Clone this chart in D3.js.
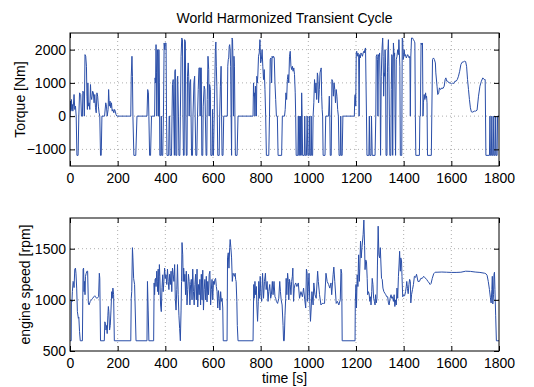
<!DOCTYPE html>
<html>
<head>
<meta charset="utf-8">
<script src="https://cdn.jsdelivr.net/npm/d3@7"></script>
<style>
  body { margin: 0; background: #fff; }
  text { font-family: "Liberation Sans", Arial, Helvetica, sans-serif; }
</style>
</head>
<body>
<svg id="chart" width="534" height="387"></svg>
<script>
const chartTitle = "World Harmonized Transient Cycle";
const timeTicks = [0, 200, 400, 600, 800, 1000, 1200, 1400, 1600, 1800];
const torqueTicks = [-1000, 0, 1000, 2000];
const speedTicks = [500, 1000, 1500];

// [time s, torque Nm]
const torque = [
  [0,0],[2,450],[4,150],[6,500],[8,200],[10,350],[12,150],[14,300],[17,650],[20,200],[23,300],[26,0],
  [29,-1180],[34,-1180],[37,0],[40,700],[45,650],[48,0],[52,0],[54,750],[58,700],[60,0],[63,1850],
  [66,1800],[69,1500],[71,600],[73,200],[75,1000],[77,300],[80,400],[83,200],[86,950],[88,600],
  [91,500],[95,750],[98,700],[101,400],[104,650],[107,250],[110,100],[113,700],[116,600],[119,300],
  [122,100],[125,0],[128,-1180],[131,-1180],[134,0],[145,0],[150,400],[153,300],[156,0],[160,200],
  [162,800],[165,300],[168,450],[171,250],[174,400],[177,150],[180,200],[184,100],[187,200],[190,150],
  [193,50],[197,0],
  [255,0],[257,1200],[260,1800],[262,1200],[264,0],[268,-1180],[276,-1180],[281,0],[323,0],[326,800],
  [329,700],[331,0],[334,-1180],[338,-1180],[342,0],[355,0],[357,1150],[359,1000],[361,2150],[363,1300],
  [364,0],[367,2000],[369,1800],[371,0],[373,2000],[375,1000],[377,-1180],[381,-1180],[383,0],
  [385,-1180],[389,-1180],[392,0],[395,2200],[398,2000],[400,2200],[403,2200],[405,0],
  [407,-1180],[414,-1180],[416,0],[418,0],[420,-1180],[426,-1180],[428,0],[430,950],[433,1100],[435,0],
  [438,-1180],[440,1350],[442,1400],[444,-1180],[448,-1180],[450,1100],[452,1200],[455,0],[457,-1180],
  [461,-1180],[463,0],[466,1800],[469,2350],[472,2300],[474,0],[476,-1180],[479,-1180],[481,2300],
  [484,2250],[486,0],[488,-1180],[491,-1180],[493,1200],[496,1600],[498,1200],[500,0],[503,1000],
  [506,1100],[508,0],[510,-1180],[514,-1180],[516,0],[520,1000],[523,1200],[525,0],[528,-1180],
  [532,-1180],[535,0],[538,800],[541,1450],[544,1450],[546,0],[548,1450],[551,1450],[553,-1180],
  [557,-1180],[559,300],[563,900],[566,800],[568,0],[571,-1180],[574,-1180],[576,500],[579,1800],
  [582,1400],[584,0],[586,950],[589,800],[591,-1180],[596,-1180],[598,200],
  [600,-1180],[602,-1180],[605,0],[608,1200],[610,2000],[612,2230],[614,1500],[616,900],[618,0],
  [620,-1180],[626,-1180],[628,0],[631,900],[634,1500],[636,0],[638,-1180],[642,-1180],[645,0],[660,0],
  [662,1500],[664,1700],[666,1750],[668,2100],[670,2150],[672,2000],[674,1500],[676,0],[678,-1180],
  [680,2350],[682,2300],[684,1600],[686,0],[688,1800],[690,1500],[692,0],[694,-1180],[701,-1180],
  [705,0],[768,0],[770,1000],[772,600],[774,700],[776,0],[778,900],[780,600],[782,0],[784,1200],
  [786,1000],[788,1200],[791,1800],[794,1900],[797,2300],[800,1600],[803,1700],[806,2000],[809,1500],
  [812,1100],[815,1400],[818,800],[821,0],[824,-1180],[834,-1180],[837,0],[840,1700],[843,1750],
  [846,1000],[848,1800],[851,1750],[854,1800],[857,1750],[860,1000],[863,500],[866,0],[870,0],
  [873,-1180],[888,-1180],[891,0],[900,0],[903,200],[906,700],[909,500],[912,1100],[915,1250],
  [918,1000],[921,1800],[924,1950],[927,1500],[930,1400],[933,1500],[936,1350],[939,1450],[942,1250],
  [945,700],[947,0],[949,-1180],[956,-1180],[958,0],[960,-1180],[962,-1180],[964,0],[966,-1180],
  [968,0],[970,-1180],[972,700],[974,0],[976,-1180],[983,-1180],[985,0],[987,-1180],[992,-1180],
  [995,0],[998,-1180],[1002,-1180],[1004,0],[1006,-1180],[1010,-1180],[1012,0],[1014,-1180],
  [1018,-1180],[1020,0],[1023,400],[1026,1100],[1029,700],[1032,1000],[1035,500],[1038,1300],
  [1040,1200],[1043,400],[1046,800],[1049,1300],[1052,1400],[1054,1450],[1056,600],[1058,200],
  [1060,0],[1062,-1180],[1070,-1180],[1073,0],[1085,0],[1088,600],[1090,0],[1092,-1180],[1096,-1180],
  [1099,1100],[1102,1050],[1105,600],[1108,1000],[1111,800],[1114,400],[1117,800],[1120,600],
  [1123,200],[1126,0],[1129,-1180],[1134,-1180],[1136,0],[1138,-1180],[1142,-1180],[1145,0],[1193,0],
  [1195,600],[1197,650],[1199,300],[1201,1900],[1203,1950],[1205,1800],[1208,1900],[1211,1850],
  [1213,0],[1215,1850],[1218,1750],[1221,1900],[1224,1850],[1227,1800],[1230,1900],[1233,1950],
  [1235,1900],[1237,2000],[1240,2050],[1242,1000],[1244,0],[1246,-1180],[1254,-1180],[1256,0],
  [1258,-1180],[1263,-1180],[1265,0],[1268,-1180],[1280,-1180],[1283,0],[1285,1800],[1288,1850],
  [1290,1700],[1292,0],[1294,1850],[1297,1800],[1299,1900],[1301,1000],[1303,-1180],[1306,1200],
  [1309,2000],[1312,2350],[1314,1800],[1316,600],[1318,1300],[1320,1200],[1322,2000],[1324,1600],
  [1326,-1180],[1330,-1180],[1332,1300],[1334,2000],[1336,2300],[1338,1500],[1340,0],[1342,-1180],
  [1346,-1180],[1348,800],[1350,1850],[1352,1800],[1354,-1180],[1357,2200],[1360,1800],[1362,1900],
  [1364,0],[1366,-1180],[1369,1700],[1372,1800],[1375,2000],[1378,1850],[1380,2300],[1382,1900],
  [1384,1500],[1386,-1180],[1392,-1180],[1394,2350],[1396,2300],[1398,1700],[1400,1800],
  [1402,2000],[1405,1800],[1408,1850],[1411,1750],[1414,1800],[1417,1850],[1420,1800],[1423,1750],
  [1426,1800],[1428,0],[1430,1800],[1433,2350],[1437,2350],[1441,2300],[1445,2250],[1447,2200],
  [1449,0],[1451,-1180],[1466,-1180],[1468,0],[1470,0],[1473,2200],[1476,2150],[1479,2200],[1481,0],
  [1483,400],[1486,650],[1489,500],[1492,700],[1494,550],[1496,600],[1498,400],[1500,-1180],
  [1516,-1180],[1518,0],[1521,1700],[1525,1750],[1529,1700],[1533,1600],[1535,1300],[1540,900],
  [1543,650],[1547,700],[1550,850],[1555,800],[1560,850],[1565,830],[1570,900],[1574,1100],
  [1577,1150],[1581,1050],[1585,1050],[1590,1000],[1595,1000],[1600,970],[1605,990],[1610,980],
  [1615,1050],[1620,1050],[1625,1100],[1630,1200],[1635,1350],[1640,1550],[1645,1620],[1650,1630],
  [1655,1650],[1660,1640],[1664,1500],[1668,1100],[1672,800],[1676,500],[1680,250],[1684,130],
  [1690,120],[1696,150],[1702,150],[1708,180],[1714,600],[1720,900],[1726,1050],[1732,1150],
  [1738,1100],[1742,1100],[1745,-1180],[1760,-1180],[1762,0],[1764,-1180],[1768,-1180],[1770,0],
  [1772,-1180],[1776,-1180],[1778,0],[1780,-1180],[1784,-1180],[1786,0],[1788,-1180],[1792,-1180],
  [1794,0],[1800,0]
];

// [time s, engine speed rpm]
const speed = [
  [0,600],[5,600],[6,1000],[8,980],[10,1080],[13,1180],[15,1170],[17,1120],[20,1300],[23,1310],
  [25,1260],[28,1115],[31,885],[35,820],[37,830],[40,690],[43,600],[52,600],[55,1300],[57,1310],
  [59,1080],[61,1180],[63,1050],[65,1230],[68,1260],[71,1280],[74,1280],[77,970],[80,950],[85,985],
  [90,1000],[95,1015],[100,1030],[104,1040],[107,1030],[112,1015],[116,1020],[120,1030],[123,1260],
  [125,1210],[128,600],[144,600],[146,785],[149,770],[151,705],[154,750],[156,670],[159,850],
  [161,935],[163,885],[166,705],[169,750],[172,900],[175,1080],[177,1015],[180,1115],[183,1050],
  [186,600],
  [255,600],[257,1015],[259,1080],[262,1510],[264,1410],[267,1210],[271,1150],[277,600],[323,600],
  [325,1180],[328,900],[331,600],[351,600],[353,1165],[355,1050],[357,1200],[359,1210],[361,1130],
  [364,1280],[366,1180],[368,1080],[370,1300],[372,1050],[375,1345],[377,1230],[380,950],[383,885],
  [386,1120],[389,1245],[391,1080],[394,1180],[397,1310],[400,1210],
  [403,1245],[406,1150],[409,1300],[412,1180],[415,1100],[418,1250],[421,1150],[424,1280],[427,1080],
  [430,1310],[433,1245],[436,1180],[439,1345],[442,1000],[445,900],[448,1100],[451,1345],[454,1050],
  [457,850],[460,720],[463,600],[466,900],[468,1180],[470,1560],[473,1440],[475,1180],[477,1310],
  [480,1180],[482,1250],[485,1050],[488,1280],[491,950],[494,1100],[497,1250],[500,1180],[503,950],
  [506,1150],[509,1200],[512,1000],[515,1300],[518,1080],[521,950],[524,1150],[527,1250],[530,1000],
  [533,1300],[536,930],[539,1150],[542,1050],[545,1200],[548,950],[551,1250],[554,1000],[557,1290],
  [560,900],[563,1100],[566,1200],[569,1000],[572,1230],[575,980],[578,1180],[581,1050],[584,1250],
  [587,1280],[590,950],[593,1100],[596,1200],[599,1000],
  [602,1180],[605,1150],[608,1200],[611,1210],[614,1130],[617,1080],[620,920],[623,1090],[626,1015],
  [629,900],[632,1080],[635,985],[638,1015],[641,920],[643,600],[659,600],[661,1410],[664,1460],
  [667,1310],[670,1510],[672,1590],[675,1510],[678,1410],[681,1180],[684,1260],[687,1245],[690,1230],
  [693,1260],[695,1200],[697,1180],[700,985],[702,750],[705,600],[768,600],[771,1150],[773,1015],
  [776,1180],[779,1050],[782,1130],[784,950],[787,790],[790,985],[792,1180],[795,1015],[798,1230],
  [801,1050],[804,985],[808,1260],[812,1015],[816,1180],[820,1260],[823,1100],[827,1180],[831,985],
  [834,1080],[838,1150],[842,1015],[845,1050],[849,1180],[852,1050],[856,1180],[860,1030],[863,1015],
  [866,985],[871,965],[876,1015],[880,1180],[883,1080],[886,1000],[890,950],[894,750],[896,600],
  [899,600],[902,850],[905,1015],[907,1210],[910,1050],[913,1260],[916,1180],[918,1000],[921,1200],
  [924,1150],[927,1050],[930,1180],[933,1230],[935,1310],[938,985],[941,1115],[944,1150],[947,1165],
  [952,1130],[958,1165],[963,1015],[969,1080],[975,1030],[980,1115],[985,1000],[989,920],[992,1300],
  [995,1260],[997,985],[1000,1130],[1003,1260],[1006,985],[1009,790],[1012,920],[1015,1080],
  [1020,950],[1023,1165],[1028,1050],[1033,1015],[1039,1280],[1042,1180],[1047,1050],[1053,950],
  [1058,965],[1063,965],[1068,965],[1074,1260],[1079,1180],[1085,1150],[1090,1115],[1095,1165],
  [1098,1050],[1104,1245],[1107,1320],[1111,1180],[1117,965],[1122,985],[1128,950],[1134,1000],
  [1137,1300],[1140,1260],[1142,600],[1196,600],
  [1197,980],[1200,1150],[1202,920],[1205,1245],[1208,1130],[1211,1440],[1214,1180],[1216,1310],
  [1219,1575],[1222,1410],[1225,1510],[1230,1640],[1233,1780],[1236,1530],[1238,1295],[1241,1390],
  [1244,1370],[1247,1210],[1249,1050],[1252,1080],[1255,1060],[1258,985],[1261,1030],[1263,950],
  [1266,1080],[1268,1210],[1271,1150],[1274,1015],[1277,985],[1280,950],[1282,1050],[1285,970],
  [1288,1015],[1290,1340],[1293,1720],[1296,1440],[1299,1410],[1302,1510],[1304,1390],[1307,1210],
  [1310,1200],[1313,1115],[1317,1080],[1321,1065],[1325,1050],[1329,1030],[1333,1030],[1336,970],
  [1339,950],[1343,1015],[1347,1050],[1350,1015],[1353,1030],[1357,985],[1360,1050],[1363,935],
  [1366,1000],[1369,950],[1372,1115],[1375,1015],[1378,1230],[1381,1360],[1383,1475],[1386,1280],
  [1388,1410],[1391,1380],[1393,1230],[1396,1030],[1400,1045],
  [1404,1040],[1408,1080],[1411,1130],[1413,1180],[1416,1110],[1419,1060],[1422,1150],[1425,1200],
  [1428,1180],[1430,970],[1433,1050],[1437,1100],[1441,1150],[1445,1230],[1450,1220],[1454,1250],
  [1460,1180],[1466,1180],[1472,1210],[1478,1210],[1484,1230],[1490,1215],[1496,1200],[1502,1180],
  [1507,1165],[1511,1150],[1515,1160],[1520,1210],[1526,1255],[1532,1270],[1540,1270],[1560,1272],
  [1580,1270],[1600,1268],[1620,1268],[1640,1270],[1660,1280],[1680,1278],[1700,1272],[1720,1268],
  [1740,1260],[1745,1255],[1750,1240],[1755,1180],[1760,1100],[1764,1020],[1767,970],[1770,1100],
  [1772,1230],[1774,960],[1777,1050],[1779,1250],[1781,1270],[1783,1100],[1786,850],[1789,600],
  [1800,600]
];

const svg = d3.select('#chart');
const lineColor = '#2a4ea8';
const plotLeft = 70, plotRight = 499;

const x = d3.scaleLinear().domain([0, 1800]).range([plotLeft, plotRight]);

svg.append('text')
  .attr('x', (plotLeft + plotRight) / 2)
  .attr('y', 23)
  .attr('text-anchor', 'middle')
  .style('font-size', '14px')
  .text(chartTitle);

function drawPanel(p) {
  const y = d3.scaleLinear().domain(p.domain).range([p.bottom, p.top]);
  const h = p.bottom - p.top;
  const g = svg.append('g');

  // dotted grid
  g.selectAll('.vgrid').data(timeTicks.slice(1, -1)).join('line')
    .attr('x1', d => x(d)).attr('x2', d => x(d))
    .attr('y1', p.top).attr('y2', p.bottom)
    .attr('stroke', '#999').attr('stroke-width', 0.8).attr('stroke-dasharray', '1,3');
  g.selectAll('.hgrid').data(p.ticks.filter(d => y(d) > p.top + 1 && y(d) < p.bottom - 1)).join('line')
    .attr('x1', plotLeft).attr('x2', plotRight)
    .attr('y1', d => y(d)).attr('y2', d => y(d))
    .attr('stroke', '#999').attr('stroke-width', 0.8).attr('stroke-dasharray', '1,3');

  // data line
  const clipId = 'clip' + p.top;
  svg.append('clipPath').attr('id', clipId).append('rect')
    .attr('x', plotLeft).attr('y', p.top).attr('width', plotRight - plotLeft).attr('height', h);
  g.append('path')
    .datum(p.data)
    .attr('clip-path', 'url(#' + clipId + ')')
    .attr('fill', 'none')
    .attr('stroke', lineColor)
    .attr('stroke-width', 1)
    .attr('stroke-linejoin', 'round')
    .attr('d', d3.line().x(d => x(d[0])).y(d => y(d[1])));

  // axes with inward ticks on all four sides
  const fmt = d3.format('d');
  g.append('g').attr('transform', 'translate(0,' + p.bottom + ')')
    .call(d3.axisBottom(x).tickValues(timeTicks).tickSize(-5).tickPadding(7).tickFormat(fmt));
  g.append('g').attr('transform', 'translate(0,' + p.top + ')')
    .call(d3.axisTop(x).tickValues(timeTicks).tickSize(-5).tickFormat(''));
  g.append('g').attr('transform', 'translate(' + plotLeft + ',0)')
    .call(d3.axisLeft(y).tickValues(p.ticks).tickSize(-5).tickPadding(4).tickFormat(fmt));
  g.append('g').attr('transform', 'translate(' + plotRight + ',0)')
    .call(d3.axisRight(y).tickValues(p.ticks).tickSize(-5).tickFormat(''));

  g.selectAll('.domain').remove();
  g.selectAll('.tick line').attr('stroke', '#000');
  g.selectAll('.tick text').attr('fill', '#000').style('font-size', '14px')
    .style('font-family', '"Liberation Sans", Arial, Helvetica, sans-serif');

  g.append('rect')
    .attr('x', plotLeft).attr('y', p.top)
    .attr('width', plotRight - plotLeft).attr('height', h)
    .attr('fill', 'none').attr('stroke', '#000').attr('stroke-width', 1);

  svg.append('text')
    .attr('transform', 'translate(' + p.ylabelX + ',' + (p.top + h / 2) + ') rotate(-90)')
    .attr('text-anchor', 'middle')
    .style('font-size', '14px')
    .text(p.ylabel);
}

drawPanel({ top: 33, bottom: 166, domain: [-1500, 2500], ticks: torqueTicks,
  data: torque, ylabel: 'Torque [Nm]', ylabelX: 25 });
drawPanel({ top: 218, bottom: 351, domain: [500, 1800], ticks: speedTicks,
  data: speed, ylabel: 'engine speed [rpm]', ylabelX: 30 });

svg.append('text')
  .attr('x', (plotLeft + plotRight) / 2)
  .attr('y', 383)
  .attr('text-anchor', 'middle')
  .style('font-size', '14px')
  .text('time [s]');
</script>
</body>
</html>
